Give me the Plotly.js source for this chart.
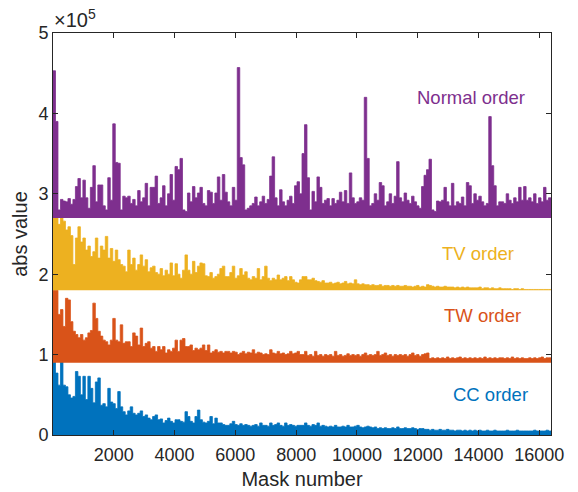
<!DOCTYPE html>
<html><head><meta charset="utf-8">
<script src="https://cdn.plot.ly/plotly-3.0.1.min.js"></script>
<style>html,body{margin:0;padding:0;background:#fff}</style>
</head><body><div id="chart" style="width:578px;height:492px"></div>
<script>
// Mask-number span
const maskMin = 1, maskMax = 16384;
const xTicks = [2000, 4000, 6000, 8000, 10000, 12000, 14000, 16000];
const yTicks = [0, 1, 2, 3, 4, 5];
const seriesNames = ['CC order', 'TW order', 'TV order', 'Normal order'];
// vertical offsets of each series (units of 1e5)
const seriesBase = [0, 0.9, 1.8, 2.7];

// Upper envelope of each series, 200 consecutive bins (units of 1e5)
const ccOrder = [
 0.93,0.77,0.62,0.91,0.62,0.60,0.50,0.46,0.48,0.79,
 0.73,0.50,0.73,0.44,0.73,0.58,0.40,0.66,0.71,0.37,
 0.39,0.35,0.58,0.41,0.39,0.33,0.54,0.35,0.29,0.25,
 0.30,0.35,0.27,0.25,0.27,0.30,0.23,0.25,0.21,0.19,
 0.23,0.25,0.19,0.20,0.15,0.18,0.21,0.17,0.15,0.19,
 0.19,0.17,0.16,0.29,0.23,0.17,0.15,0.23,0.31,0.19,
 0.16,0.15,0.17,0.23,0.14,0.21,0.15,0.15,0.13,0.12,
 0.12,0.14,0.17,0.13,0.12,0.14,0.12,0.13,0.12,0.11,
 0.12,0.13,0.11,0.15,0.12,0.12,0.11,0.15,0.12,0.13,
 0.15,0.12,0.11,0.15,0.12,0.13,0.12,0.11,0.12,0.12,
 0.12,0.15,0.12,0.11,0.13,0.12,0.15,0.11,0.12,0.11,
 0.10,0.11,0.10,0.12,0.10,0.10,0.11,0.10,0.12,0.10,
 0.10,0.11,0.12,0.10,0.09,0.10,0.11,0.10,0.09,0.10,
 0.08,0.09,0.08,0.09,0.08,0.08,0.09,0.08,0.10,0.08,
 0.08,0.09,0.08,0.08,0.09,0.08,0.07,0.08,0.08,0.07,
 0.07,0.06,0.07,0.06,0.06,0.07,0.06,0.06,0.07,0.06,
 0.06,0.05,0.06,0.06,0.05,0.06,0.05,0.06,0.05,0.06,
 0.05,0.06,0.05,0.05,0.06,0.05,0.05,0.06,0.05,0.05,
 0.05,0.05,0.06,0.05,0.05,0.05,0.06,0.05,0.05,0.05,
 0.05,0.05,0.05,0.06,0.05,0.05,0.05,0.05,0.06,0.05
];
const twOrder = [
 1.80,1.80,1.50,1.56,1.35,1.70,1.68,1.41,1.29,1.25,
 1.21,1.25,1.18,1.21,1.27,1.30,1.64,1.45,1.29,1.23,
 1.18,1.16,1.12,1.18,1.45,1.18,1.16,1.37,1.14,1.16,
 1.16,1.10,1.27,1.23,1.12,1.33,1.10,1.14,1.16,1.08,
 1.10,1.04,1.10,1.06,1.10,1.02,1.06,1.04,1.08,1.18,
 1.04,1.18,1.20,1.10,1.10,1.12,1.05,1.08,1.06,1.08,
 1.12,1.05,1.12,1.02,1.04,1.06,1.03,1.04,1.02,1.04,
 1.04,1.02,1.04,1.03,1.00,1.02,1.04,1.01,1.03,1.02,
 1.06,1.01,1.03,1.02,1.00,1.01,1.00,1.06,1.02,1.01,
 1.04,1.01,1.02,1.00,1.01,1.04,1.01,1.02,1.04,1.00,
 1.00,1.04,0.99,1.00,0.98,1.04,0.99,1.00,0.98,1.00,
 0.99,1.00,0.98,1.04,0.99,1.00,0.98,0.99,1.01,0.99,
 1.00,0.99,1.00,0.98,1.00,1.02,0.99,1.00,0.99,1.00,
 1.04,0.99,1.00,1.02,0.99,1.00,0.98,1.00,0.99,1.00,
 0.99,1.00,0.98,1.00,1.02,0.99,1.00,0.98,1.00,1.01,
 1.02,0.95,0.96,0.95,0.96,0.95,0.96,0.95,0.97,0.95,
 0.96,0.95,0.96,0.97,0.95,0.96,0.95,0.96,0.95,0.96,
 0.95,0.96,0.95,0.97,0.95,0.96,0.95,0.96,0.95,0.96,
 0.96,0.95,0.96,0.95,0.97,0.95,0.96,0.95,0.96,0.95,
 0.95,0.96,0.95,0.96,0.95,0.96,0.97,0.95,0.96,0.96
];
const tvOrder = [
 2.70,2.70,2.62,2.70,2.66,2.55,2.59,2.48,2.12,2.45,
 2.59,2.40,2.45,2.30,2.35,2.22,2.28,2.45,2.20,2.35,
 2.30,2.47,2.20,2.32,2.16,2.30,2.18,2.12,2.10,2.03,
 2.30,2.12,2.20,2.05,2.12,2.24,2.10,2.18,2.03,2.08,
 2.10,2.02,2.00,2.07,1.98,2.05,2.00,2.14,1.98,2.13,
 2.00,1.95,2.05,2.24,2.05,2.00,2.16,2.02,2.10,2.14,
 2.13,1.98,1.97,2.02,1.95,1.97,2.00,2.07,2.10,1.97,
 1.97,2.02,2.10,1.95,1.98,2.07,1.99,2.03,1.95,1.93,
 1.97,1.95,2.07,1.93,1.97,2.10,1.95,1.92,1.95,1.93,
 1.99,1.93,1.95,1.97,1.92,1.97,1.93,1.90,1.89,1.93,
 1.97,1.97,1.93,1.93,1.95,1.92,1.91,1.90,1.92,1.89,
 1.89,1.90,1.88,1.89,1.90,1.88,1.89,1.91,1.88,1.89,
 1.88,1.93,1.88,1.87,1.88,1.87,1.87,1.86,1.87,1.86,
 1.86,1.87,1.85,1.86,1.86,1.85,1.86,1.85,1.86,1.85,
 1.85,1.86,1.85,1.85,1.84,1.85,1.86,1.84,1.85,1.84,
 1.87,1.86,1.85,1.84,1.85,1.84,1.84,1.85,1.84,1.84,
 1.84,1.83,1.84,1.83,1.84,1.83,1.84,1.83,1.83,1.83,
 1.83,1.84,1.82,1.83,1.83,1.82,1.83,1.82,1.82,1.83,
 1.82,1.82,1.82,1.82,1.81,1.82,1.82,1.81,1.82,1.81,
 1.81,1.81,1.81,1.81,1.81,1.81,1.81,1.81,1.81,1.81
];
const normalOrder = [
 4.53,3.90,2.80,2.93,2.91,2.90,2.94,2.87,2.93,3.09,
 3.19,2.95,3.17,2.95,2.82,3.08,3.35,2.90,3.11,3.11,
 2.85,2.80,3.20,2.92,3.87,3.39,3.38,2.80,2.97,2.95,
 2.97,2.88,2.93,2.85,3.04,2.90,2.95,3.13,2.85,3.08,
 3.08,3.22,2.88,2.95,3.10,2.85,3.00,3.24,2.92,3.34,
 3.30,3.44,2.80,2.78,3.01,2.90,3.09,2.95,3.01,3.08,
 2.88,2.85,3.04,3.02,2.88,3.01,3.21,2.92,3.24,3.02,
 2.90,2.85,3.08,2.92,4.57,3.45,3.36,2.80,2.82,2.85,
 2.88,2.96,2.85,2.90,2.97,2.88,2.93,3.22,3.46,2.95,
 2.85,3.05,2.90,2.85,2.92,2.97,2.88,3.10,3.15,3.00,
 3.50,3.86,3.20,2.80,3.03,2.90,3.21,3.08,2.88,2.92,
 2.94,2.85,2.94,2.88,2.92,3.02,2.90,3.04,2.88,3.26,
 2.95,2.88,2.90,2.95,2.92,4.20,3.44,2.85,2.88,3.00,
 2.92,3.14,3.10,2.85,2.90,3.00,2.88,2.97,3.40,2.95,
 2.90,3.01,2.92,2.88,2.97,2.90,2.85,2.82,3.09,3.23,
 3.30,3.43,2.80,2.78,2.91,2.90,2.92,3.08,2.90,2.85,
 3.13,2.85,2.90,2.88,2.96,2.85,3.14,3.10,2.88,3.00,
 2.92,2.97,2.90,2.85,2.88,3.96,3.35,3.10,2.85,2.90,
 2.90,2.88,3.00,2.92,2.88,2.95,2.90,3.08,2.92,3.09,
 2.92,2.95,2.90,3.00,2.88,2.95,2.90,3.08,2.92,2.95
];
const seriesValues = [ccOrder, twOrder, tvOrder, normalOrder];
const seriesColors = ['#0072BD', '#D95319', '#EDB120', '#7E2F8E'];
const fontFam = 'Liberation Sans, Arial, sans-serif';

const traces = [];
seriesValues.forEach((vals, k) => {
  const n = vals.length;
  const w = (maskMax - maskMin) / n;
  const x = vals.map((v, i) => maskMin + i * w);
  x.push(maskMax);
  const y = vals.concat([vals[n - 1]]);
  traces.push({x: [maskMin, maskMax], y: [seriesBase[k], seriesBase[k]], mode: 'lines',
    line: {width: 0, color: seriesColors[k]}, hoverinfo: 'skip', showlegend: false});
  traces.push({x: x, y: y, mode: 'lines', name: seriesNames[k],
    line: {shape: 'hv', width: 0.8, color: seriesColors[k]},
    fill: 'tonexty', fillcolor: seriesColors[k], showlegend: false});
});

const labelPos = [[14403, 0.51], [14130, 1.49], [13966, 2.26], [13742, 4.20]];
const annotations = seriesNames.map((name, k) => ({
  x: labelPos[k][0], y: labelPos[k][1], xref: 'x', yref: 'y', text: name, showarrow: false,
  font: {size: 18.5, color: seriesColors[k], family: fontFam}
}));
annotations.push({x: 0, y: 1, xref: 'paper', yref: 'paper', xanchor: 'left', yanchor: 'bottom',
  xshift: -1, yshift: 0, text: '\u00d710<sup>5</sup>', showarrow: false,
  font: {size: 20, color: '#262626', family: fontFam}});

const axisCommon = {showline: true, linecolor: '#262626', linewidth: 1, mirror: 'ticks',
  ticks: 'inside', ticklen: 5, tickcolor: '#262626', showgrid: false, zeroline: false,
  tickfont: {size: 18, color: '#262626', family: fontFam}};

const layout = {
  width: 578, height: 492,
  margin: {l: 53, r: 27, t: 33, b: 57},
  paper_bgcolor: '#ffffff', plot_bgcolor: '#ffffff',
  showlegend: false,
  xaxis: Object.assign({}, axisCommon, {range: [maskMin, maskMax], tickvals: xTicks,
    ticktext: xTicks.map(String), ticklabelstandoff: 3,
    title: {text: 'Mask number', standoff: 8, font: {size: 20, color: '#262626', family: fontFam}}}),
  yaxis: Object.assign({}, axisCommon, {range: [0, 5], tickvals: yTicks, ticktext: yTicks.map(String),
    title: {text: 'abs value', standoff: 5, font: {size: 20, color: '#262626', family: fontFam}}}),
  annotations: annotations
};

Plotly.newPlot('chart', traces, layout, {displayModeBar: false, staticPlot: true});
</script></body></html>
